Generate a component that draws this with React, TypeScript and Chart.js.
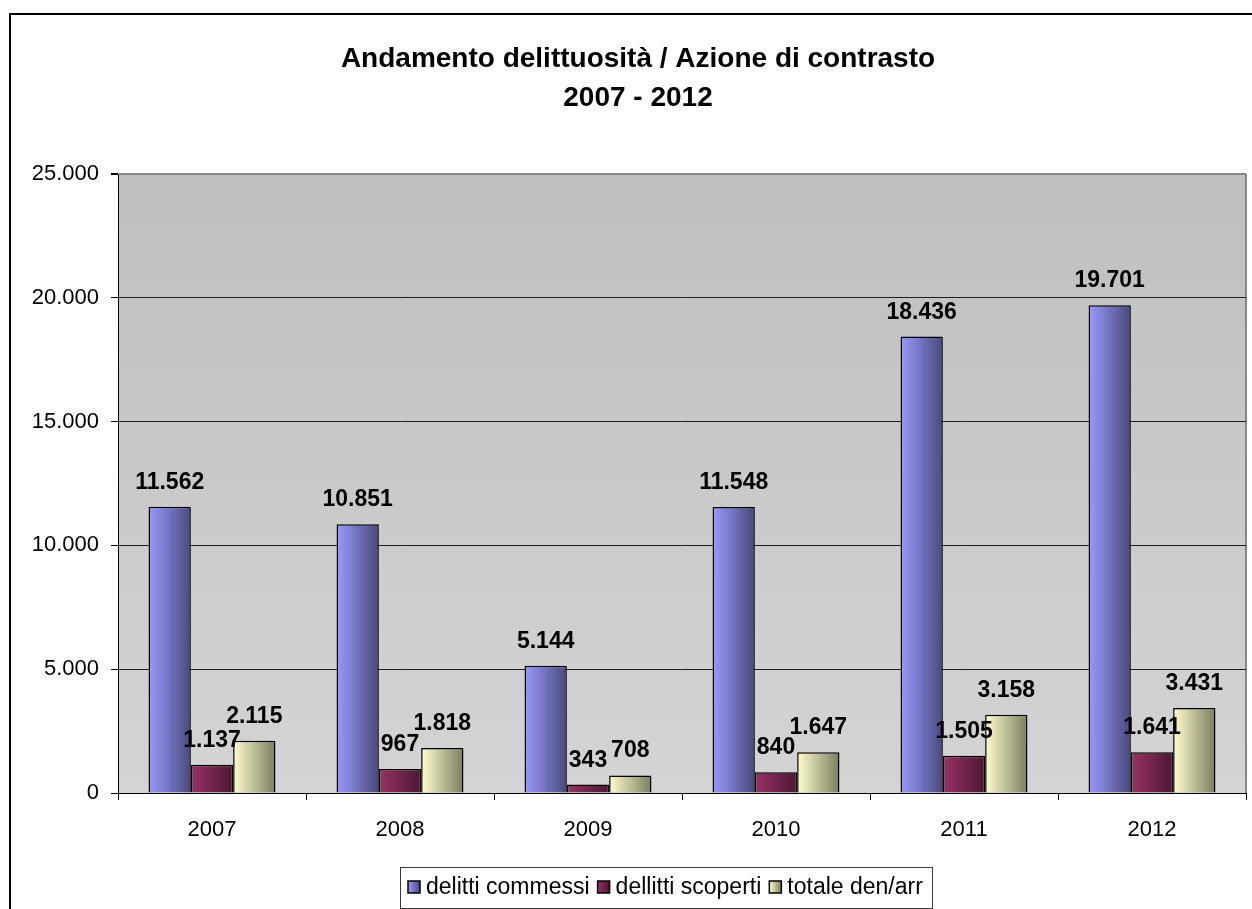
import React, { useEffect, useRef } from "react";
import { Chart, registerables } from "chart.js";

Chart.register(...registerables);

const CATEGORIES = ["2007", "2008", "2009", "2010", "2011", "2012"];
const DELITTI_COMMESSI = [11562, 10851, 5144, 11548, 18436, 19701];
const DELITTI_SCOPERTI = [1137, 967, 343, 840, 1505, 1641];
const TOTALE_DEN_ARR = [2115, 1818, 708, 1647, 3158, 3431];
const SERIES_NAMES = ["delitti commessi", "dellitti scoperti", "totale den/arr"];
const TITLE_LINES = ["Andamento delittuosità / Azione di contrasto", "2007 - 2012"];
const Y_MIN = 0;
const Y_MAX = 25000;
const Y_STEP = 5000;

const GRADIENTS: [string, string][] = [
  ["#9999FF", "#4A4A7C"],
  ["#993366", "#4A1831"],
  ["#FFFFCC", "#7C7C62"],
];

const CAT_PCT = 0.675;
const FONT = "'Liberation Sans', Arial, Helvetica, sans-serif";

function fmt(v: number): string {
  const s = Math.round(v).toString();
  return s.replace(/\B(?=(\d{3})+(?!\d))/g, ".");
}

function barGradient(idx: number) {
  return (ctx: any) => {
    const chart = ctx.chart;
    const xs = chart.scales && chart.scales.x;
    const stops = GRADIENTS[idx];
    if (!xs || ctx.type !== "data" || !xs.width) return stops[0];
    const catW = xs.width / CATEGORIES.length;
    const groupW = catW * CAT_PCT;
    const barW = groupW / chart.data.datasets.length;
    const center = xs.getPixelForValue(ctx.dataIndex);
    const left = center - groupW / 2 + ctx.datasetIndex * barW;
    const g = chart.ctx.createLinearGradient(left, 0, left + barW, 0);
    g.addColorStop(0, stops[0]);
    g.addColorStop(1, stops[1]);
    return g;
  };
}

const decorPlugin = {
  id: "decor",
  beforeDraw(chart: any) {
    const { ctx, chartArea } = chart;
    ctx.save();
    ctx.fillStyle = "#ffffff";
    ctx.fillRect(0, 0, chart.width, chart.height);
    // outer frame
    ctx.strokeStyle = "#000000";
    ctx.lineWidth = 2;
    ctx.strokeRect(10, 14, 1260, 920);
    // plot area background
    const g = ctx.createLinearGradient(0, chartArea.top, 0, chartArea.bottom);
    g.addColorStop(0, "#BFBFBF");
    g.addColorStop(1, "#D4D4D4");
    ctx.fillStyle = g;
    ctx.fillRect(chartArea.left, chartArea.top, chartArea.right - chartArea.left, chartArea.bottom - chartArea.top);
    // right border of plot area
    ctx.strokeStyle = "#878787";
    ctx.lineWidth = 2;
    ctx.beginPath();
    ctx.moveTo(chartArea.right, chartArea.top);
    ctx.lineTo(chartArea.right, chartArea.bottom);
    ctx.stroke();
    // title
    ctx.fillStyle = "#000000";
    ctx.font = `bold 28px ${FONT}`;
    ctx.textAlign = "center";
    ctx.textBaseline = "middle";
    const cx = 638;
    ctx.fillText(TITLE_LINES[0], cx, 59);
    ctx.fillText(TITLE_LINES[1], cx, 98);
    ctx.restore();
  },
  afterDatasetsDraw(chart: any) {
    const { ctx } = chart;
    ctx.save();
    ctx.fillStyle = "#000000";
    ctx.font = `bold 23px ${FONT}`;
    ctx.textAlign = "center";
    ctx.textBaseline = "alphabetic";
    chart.data.datasets.forEach((ds: any, i: number) => {
      const meta = chart.getDatasetMeta(i);
      meta.data.forEach((el: any, j: number) => {
        const { x, y } = el.getProps(["x", "y"], true);
        ctx.fillText(fmt(ds.data[j]), x, y - 18);
      });
    });
    ctx.restore();
  },
  afterDraw(chart: any) {
    const { ctx } = chart;
    ctx.save();
    // legend box
    const bx = 400, by = 867, bw = 532, bh = 41;
    ctx.fillStyle = "#ffffff";
    ctx.fillRect(bx, by, bw, bh);
    ctx.strokeStyle = "#3a3a3a";
    ctx.lineWidth = 1;
    ctx.strokeRect(bx + 0.5, by + 0.5, bw, bh);
    ctx.font = `23px ${FONT}`;
    ctx.textBaseline = "middle";
    ctx.textAlign = "left";
    const cy = by + 20;
    let x = bx + 8;
    chart.data.datasets.forEach((ds: any, i: number) => {
      const s = 12;
      const g = ctx.createLinearGradient(x, 0, x + s, 0);
      g.addColorStop(0, GRADIENTS[i][0]);
      g.addColorStop(1, GRADIENTS[i][1]);
      ctx.fillStyle = g;
      ctx.fillRect(x, cy - s / 2, s, s);
      ctx.strokeStyle = "#000";
      ctx.lineWidth = 1.5;
      ctx.strokeRect(x, cy - s / 2, s, s);
      x += s + 6;
      ctx.fillStyle = "#000";
      ctx.fillText(ds.label, x, cy + 1);
      x += ctx.measureText(ds.label).width + 8;
    });
    ctx.restore();
  },
};

export default function App() {
  const ref = useRef<HTMLCanvasElement | null>(null);
  useEffect(() => {
    if (!ref.current) return;
    const seriesData = [DELITTI_COMMESSI, DELITTI_SCOPERTI, TOTALE_DEN_ARR];
    const chart = new Chart(ref.current, {
      type: "bar",
      data: {
        labels: CATEGORIES,
        datasets: seriesData.map((d, i) => ({
          label: SERIES_NAMES[i],
          data: d,
          backgroundColor: barGradient(i),
          borderColor: "#000000",
          borderWidth: 1.5,
          categoryPercentage: CAT_PCT,
          barPercentage: 1.0,
        })),
      },
      options: {
        responsive: false,
        animation: false,
        devicePixelRatio: 1,
        layout: { padding: { left: 0, top: 174, right: 6, bottom: 56 } },
        plugins: {
          legend: { display: false },
          title: { display: false },
          tooltip: { enabled: false },
        },
        scales: {
          x: {
            grid: {
              drawOnChartArea: false,
              drawTicks: true,
              tickLength: 7,
              tickColor: "#000000",
              offset: true,
            },
            border: { display: true, color: "#000000", width: 1 },
            ticks: {
              color: "#000000",
              font: { family: FONT, size: 22 },
              padding: 17,
              maxRotation: 0,
            },
            afterFit(scale: any) {
              scale.height = 60;
            },
          },
          y: {
            min: Y_MIN,
            max: Y_MAX,
            ticks: {
              stepSize: Y_STEP,
              color: "#000000",
              font: { family: FONT, size: 22 },
              padding: 12,
              callback: (v: any) => fmt(Number(v)),
            },
            grid: {
              color: (c: any) => (c.tick && c.tick.value === Y_MAX ? "#878787" : "#1e1e1e"),
              lineWidth: (c: any) => (c.tick && c.tick.value === Y_MAX ? 2 : 1),
              tickLength: 7,
              tickColor: "#000000",
            },
            border: { display: true, color: "#000000", width: 1 },
            afterFit(scale: any) {
              scale.width = 118;
            },
          },
        },
      },
      plugins: [decorPlugin],
    });
    return () => chart.destroy();
  }, []);
  return (
    <div style={{ position: "fixed", left: 0, top: 0, width: 1252, height: 909 }}>
      <canvas ref={ref} width={1252} height={909} style={{ display: "block" }} />
    </div>
  );
}
